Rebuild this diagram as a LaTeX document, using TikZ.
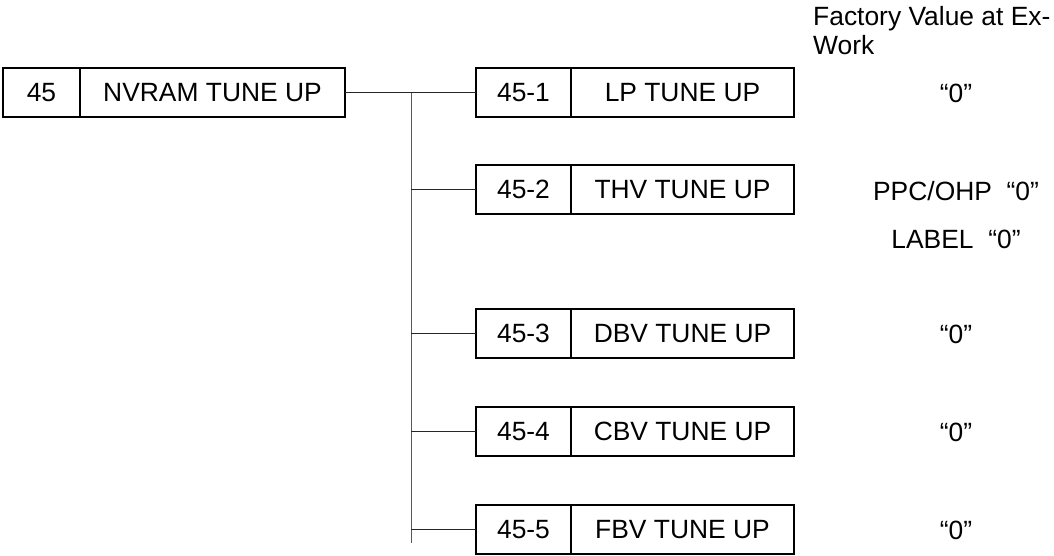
\documentclass[tikz,border=0pt]{standalone}
\usepackage{fontspec}
\setmainfont{Liberation Sans}
\begin{document}
\begin{tikzpicture}[x=1pt,y=-1pt,
  every node/.style={font=\fontsize{26.4}{29.5}\selectfont},
  cell/.style={draw, line width=2pt, inner sep=0pt, outer sep=0pt, minimum height=49pt, anchor=north west},
  numcell/.style={cell, minimum width=95pt},
  namecell/.style={cell, minimum width=223pt},
  conn/.style={line width=1pt, draw=black!85},
  trunk/.style={line width=1pt, draw=black!65},
  val/.style={anchor=center, inner sep=0pt}]
\useasboundingbox (0,0) rectangle (1054,555);

% main box
\node[cell, minimum width=77pt] (m1) at (3,68) {45};
\node[cell, minimum width=265pt] (m2) at (m1.north east) {NVRAM TUNE UP};

% sub boxes
\node[numcell] (b1) at (476,68) {45-1};
\node[namecell] (n1) at (b1.north east) {LP TUNE UP};
\node[numcell] (b2) at (476,165) {45-2};
\node[namecell] (n2) at (b2.north east) {THV TUNE UP};
\node[numcell] (b3) at (476,309) {45-3};
\node[namecell] (n3) at (b3.north east) {DBV TUNE UP};
\node[numcell] (b4) at (476,407) {45-4};
\node[namecell] (n4) at (b4.north east) {CBV TUNE UP};
\node[numcell] (b5) at (476,505) {45-5};
\node[namecell] (n5) at (b5.north east) {FBV TUNE UP};

% connectors
\coordinate (tb) at (411,543);
\draw[trunk] (m2.east -| tb) -- (tb);
\draw[conn] (m2.east) -- (b1.west);
\foreach \b in {b2,b3,b4,b5}
  \draw[conn] (\b.west -| tb) -- (\b.west);

% header and values
\node[anchor=north west, align=left, inner sep=0pt] (hdr) at (813,6) {Factory Value at Ex-\\Work};
\node[val] (v1) at (956,93) {“0”};
\node[val] (v2) at (956,191) {PPC/OHP\ \ “0”};
\node[val] (v2b) at (956,239) {LABEL\ \ “0”};
\node[val] (v3) at (956,334) {“0”};
\node[val] (v4) at (956,432) {“0”};
\node[val] (v5) at (956,530) {“0”};
\end{tikzpicture}
\end{document}
